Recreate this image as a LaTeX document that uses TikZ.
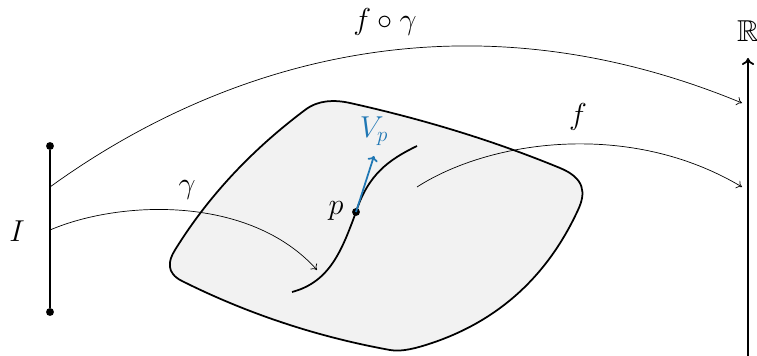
\documentclass[tikz,border=0pt]{standalone}
\usepackage{amssymb}
\usetikzlibrary{arrows.meta}
\definecolor{vblue}{RGB}{31,119,180}
\definecolor{blobfill}{RGB}{242,242,242}
\begin{document}
\begin{tikzpicture}[x=0.0201cm,y=-0.0201cm,
  thickline/.style={line width=1pt},
  maparrow/.style={-{To[length=3pt,width=5pt]},line width=0.4pt},
  dotnode/.style={circle,fill=black,inner sep=0pt,minimum size=4.5pt},
  lbl/.style={inner sep=1pt,font=\LARGE}]
\useasboundingbox (0,0) rectangle (757,356);
% manifold
\draw[thickline,fill=blobfill] (175,250)
  .. controls (209,195) and (253,149) .. (305,110)
  .. controls (318,100) and (334,99.5) .. (350,103)
  .. controls (422,119) and (492,140) .. (560,168)
  .. controls (585,178.3) and (586,193) .. (578,210)
  .. controls (548,275) and (500,320) .. (432,343)
  .. controls (417,348) and (402,352.2) .. (390,350)
  .. controls (318,337) and (248,314) .. (182,281)
  .. controls (166,273) and (168,261) .. (175,250) -- cycle;
% interval I
\node[dotnode] (Itop) at (50,146) {};
\node[dotnode] (Ibot) at (50,312) {};
\draw[thickline] (Itop) -- (Ibot);
\node[lbl] (Ilab) at (17,231) {$I$};
\coordinate (Ia) at (50,187);
\coordinate (Ib) at (50,230);
% real line
\coordinate (Rbot) at (748,356);
\coordinate (Rtop) at (748,58);
\draw[thickline,-{To[length=4pt,width=7pt]}] (Rbot) -- (Rtop);
\node[lbl] (Rlab) at (748,31) {$\mathbb{R}$};
% curve through p
\coordinate (c0) at (292,292);
\node[dotnode] (p) at (356,212) {};
\coordinate (c1) at (417,146);
\draw[thickline] (c0) .. controls (330,282) and (342,250) .. (p.center)
  .. controls (368,175) and (388,160) .. (c1);
\node[lbl] (plab) at (336,211) {$p$};
% tangent vector
\coordinate (vtip) at (374,156);
\draw[vblue,line width=1pt,-{To[length=3pt,width=6pt]}] (p.center) -- (vtip);
\node[lbl,text=vblue] (vlab) at (374,131) {$V_p$};
% maps
\coordinate (ga) at (317,270);
\draw[maparrow] (Ib) .. controls (120,200) and (250,195) .. (ga);
\node[lbl] (glab) at (187,190) {$\gamma$};
\coordinate (fs) at (417,187);
\coordinate (fe) at (742,187);
\draw[maparrow] (fs) .. controls (490,140) and (630,120) .. (fe);
\node[lbl] (flab) at (578,117) {$f$};
\coordinate (fge) at (742,103);
\draw[maparrow] (Ia) .. controls (170,100) and (420,-30) .. (fge);
\node[lbl] (fglab) at (385,22) {$f\circ\gamma$};
\end{tikzpicture}
\end{document}
